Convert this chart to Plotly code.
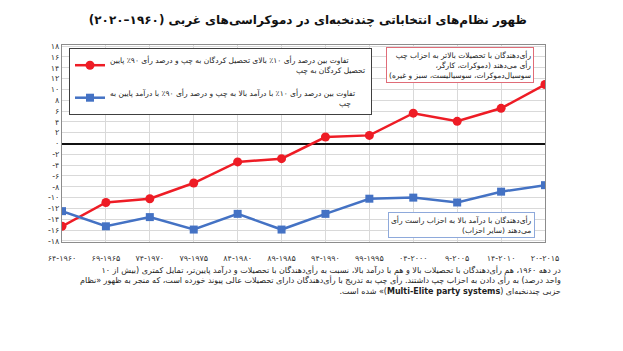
import plotly.graph_objects as go

RLE, PDF, NBSP = "\u202b", "\u202c", "\u00a0"

def rtl(s):
    return "<br>".join(RLE + line + PDF for line in s.split("\n"))

def rtl_legend(first, second, pad):
    # second line padded on its left so that it sits flush right, as in the reference box
    return RLE + first + PDF + "<br>" + NBSP * pad + RLE + second + PDF

periods = ["۶۴-۱۹۶۰", "۶۹-۱۹۶۵", "۷۴-۱۹۷۰", "۷۹-۱۹۷۵", "۸۴-۱۹۸۰", "۸۹-۱۹۸۵",
           "۹۴-۱۹۹۰", "۹۹-۱۹۹۵", "۰۴-۲۰۰۰", "۹-۲۰۰۵", "۱۴-۲۰۱۰", "۲۰-۲۰۱۵"]
education_gap = [-15.3, -10.9, -10.2, -7.3, -3.4, -2.8, 1.2, 1.5, 5.6, 4.1, 6.5, 10.9]
income_gap = [-12.5, -15.3, -13.6, -15.9, -13.0, -15.9, -13.0, -10.2, -10.0, -10.9, -8.9, -7.7]
y_tickvals = [18, 16, 14, 12, 10, 8, 6, 4, 2, 0, -2, -4, -6, -8, -10, -12, -14, -16, -18]
y_ticktext = ["۱۸", "۱۶", "۱۴", "۱۲", "۱۰", "۸", "۶", "۴", "۲", "۰", "-۲", "-۴", "-۶",
              "-۸", "-۱۰", "-۱۲", "-۱۴", "-۱۶", "-۱۸"]

name_edu = ("تفاوت بین درصد رأی ۱۰٪ بالای تحصیل کردگان به چپ و درصد رأی ۹۰٪ پایین",
            "تحصیل کردگان به چپ")
name_inc = ("تفاوت بین درصد رأی ۱۰٪ با درآمد بالا به چپ و درصد رأی ۹۰٪ با درآمد پایین به",
            "چپ")
title = "ظهور نظام‌های انتخاباتی چندنخبه‌ای در دموکراسی‌های غربی (۱۹۶۰–۲۰۲۰)"
note_left = "رأی‌دهندگان با تحصیلات بالاتر به احزاب چپ\nرأی می‌دهند (دموکرات، کارگر،\nسوسیال‌دموکرات، سوسیالیست، سبز و غیره)"
note_right = "رأی‌دهندگان با درآمد بالا به احزاب راست رأی\nمی‌دهند (سایر احزاب)"
caption = ("در دهه ۱۹۶۰، هم رأی‌دهندگان با تحصیلات بالا و هم با درآمد بالا، نسبت به رأی‌دهندگان با تحصیلات و درآمد پایین‌تر، تمایل کمتری (بیش از ۱۰\n"
           "واحد درصد) به رأی دادن به احزاب چپ داشتند. رأی چپ به تدریج با رأی‌دهندگان دارای تحصیلات عالی پیوند خورده است، که منجر به ظهور «نظام\n"
           "حزبی چندنخبه‌ای (<b>Multi-Elite party systems</b>)» شده است.")

FONT = "DejaVu Sans"
fig = go.Figure()
fig.add_trace(go.Scatter(x=periods, y=education_gap, name=rtl_legend(*name_edu, 78),
                         mode="lines+markers",
                         line=dict(color="#ee1c25", width=2.5),
                         marker=dict(symbol="circle", size=9, color="#ee1c25"),
                         legendgroup="a"))
fig.add_trace(go.Scatter(x=periods, y=income_gap, name=rtl_legend(*name_inc, 96),
                         mode="lines+markers",
                         line=dict(color="#4472c4", width=2.5),
                         marker=dict(symbol="square", size=8, color="#4472c4"),
                         legendgroup="b"))

fig.update_layout(
    width=623, height=351,
    margin=dict(l=62, r=78, t=45, b=109),
    paper_bgcolor="white", plot_bgcolor="white",
    font=dict(family=FONT, size=8, color="#333333"),
    title=dict(text=rtl(title), x=0.494, xref="container", y=1 - 20 / 351, yref="container",
               xanchor="center", yanchor="middle",
               font=dict(family=FONT, size=12, color="#111111", weight="bold")),
    showlegend=True,
    legend=dict(x=0.0145, y=0.985, xanchor="left", yanchor="top",
                bgcolor="white", bordercolor="#404040", borderwidth=1,
                font=dict(family=FONT, size=7.5, color="#222222"),
                tracegroupgap=10, traceorder="grouped"),
    xaxis=dict(type="category", range=[0, 11],
               showgrid=True, gridcolor="#d9d9d9", gridwidth=1,
               showline=True, linecolor="#8c8c8c", linewidth=1, mirror=True,
               ticks="outside", ticklen=8, tickcolor="rgba(0,0,0,0)",
               tickfont=dict(family=FONT, size=8, color="#333333")),
    yaxis=dict(range=[-18.2, 18.2], tickvals=y_tickvals, ticktext=y_ticktext,
               showgrid=True, gridcolor="#d9d9d9", gridwidth=1,
               zeroline=True, zerolinecolor="#111111", zerolinewidth=2,
               showline=True, linecolor="#8c8c8c", linewidth=1, mirror=True, ticks="",
               tickfont=dict(family=FONT, size=8, color="#333333")),
)

fig.add_annotation(text=rtl(note_left), xref="paper", yref="paper", x=0.823, y=0.901,
                   xanchor="center", yanchor="middle", align="right", showarrow=False,
                   bgcolor="white", bordercolor="#e06c78", borderwidth=1, borderpad=2,
                   font=dict(family=FONT, size=7.5, color="#222222"))
fig.add_annotation(text=rtl(note_right), xref="paper", yref="paper", x=0.828, y=0.084,
                   xanchor="center", yanchor="middle", align="right", showarrow=False,
                   bgcolor="white", bordercolor="#8ea9db", borderwidth=1, borderpad=2,
                   font=dict(family=FONT, size=7.5, color="#222222"))
fig.add_annotation(text=rtl(caption), xref="paper", yref="paper", x=(563 - 62) / 483,
                   y=(242 - 263) / 197, xanchor="right", yanchor="top", align="right",
                   showarrow=False, font=dict(family=FONT, size=8, color="#222222"))

fig.write_html("out.html")
